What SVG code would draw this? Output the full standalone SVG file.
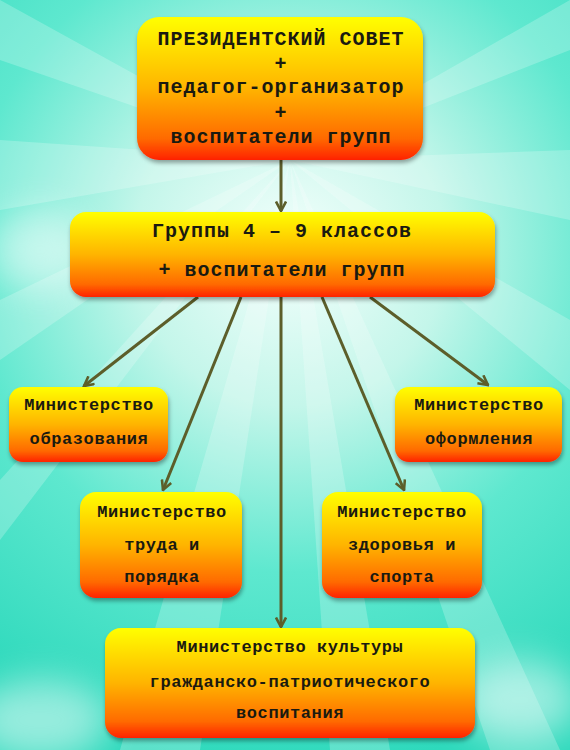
<svg xmlns="http://www.w3.org/2000/svg" width="570" height="750" viewBox="0 0 570 750">
<defs>
<radialGradient id="bg" cx="290" cy="250" r="520" gradientUnits="userSpaceOnUse">
<stop offset="0" stop-color="#f4fffc"/>
<stop offset="0.3" stop-color="#c4f6ea"/>
<stop offset="0.62" stop-color="#5ee8cf"/>
<stop offset="1" stop-color="#2ed9bc"/>
</radialGradient>
<linearGradient id="box" x1="0" y1="0" x2="0" y2="1">
<stop offset="0" stop-color="#ffff00"/>
<stop offset="0.5" stop-color="#ffb400"/>
<stop offset="0.85" stop-color="#ff6a00"/>
<stop offset="1" stop-color="#ff2200"/>
</linearGradient>
<filter id="sh" x="-10%" y="-10%" width="120%" height="130%">
<feDropShadow dx="1" dy="3" stdDeviation="2" flood-color="#000" flood-opacity="0.35"/>
</filter>
<filter id="blur" x="-50%" y="-50%" width="200%" height="200%">
<feGaussianBlur stdDeviation="18"/>
</filter>
<marker id="ah" viewBox="0 0 12 12" refX="10.5" refY="6" markerWidth="12" markerHeight="12" markerUnits="userSpaceOnUse" orient="auto">
<path d="M1,1 L10.5,6 L1,11" fill="none" stroke="#5c5e2a" stroke-width="2.6" stroke-linejoin="miter"/>
</marker>
</defs>
<style>
.node rect { fill: url(#box); filter: url(#sh); }
.t { font-family: "Liberation Mono", "Courier New", monospace; font-weight: bold; fill: #1a1a10; text-anchor: middle; }
.big { font-size: 20px; letter-spacing: 1px; }
.sm { font-size: 17px; letter-spacing: 0.6px; }
.conn line { stroke: #5c5e2a; stroke-width: 3; marker-end: url(#ah); }
</style>
<rect x="0" y="0" width="570" height="750" fill="url(#bg)"/>
<g opacity="0.22" fill="#ffffff">
<polygon points="290,160 0,0 0,60"/>
<polygon points="290,160 0,140 0,210"/>
<polygon points="290,160 0,300 0,360"/>
<polygon points="290,160 120,750 200,750"/>
<polygon points="290,160 330,750 390,750"/>
<polygon points="290,160 570,0 570,50"/>
<polygon points="290,160 570,150 570,220"/>
<polygon points="290,160 570,320 570,390"/>
<polygon points="290,160 490,750 560,750"/>
<polygon points="290,160 0,480 0,540"/>
</g>
<g opacity="0.5" fill="#ffffff" filter="url(#blur)">
<ellipse cx="40" cy="720" rx="70" ry="40"/>
<ellipse cx="520" cy="700" rx="60" ry="40"/>
<ellipse cx="40" cy="250" rx="50" ry="40"/>
</g>
<g class="conn">
<line x1="281" y1="160" x2="281" y2="211"/>
<line x1="198" y1="297" x2="84" y2="386"/>
<line x1="241" y1="297" x2="163" y2="490"/>
<line x1="281" y1="297" x2="281" y2="627"/>
<line x1="322" y1="297" x2="404" y2="490"/>
<line x1="370" y1="297" x2="488" y2="385"/>
</g>
<g id="n1" class="node">
<rect x="137" y="17" width="286" height="143" rx="22"/>
<text class="t big" x="281" y="45">ПРЕЗИДЕНТСКИЙ СОВЕТ</text>
<text class="t big" x="281" y="70">+</text>
<text class="t big" x="281" y="93">педагог-организатор</text>
<text class="t big" x="281" y="119">+</text>
<text class="t big" x="281" y="143">воспитатели групп</text>
</g>
<g id="n2" class="node">
<rect x="70" y="212" width="425" height="85" rx="16"/>
<text class="t big" x="282" y="237">Группы 4 – 9 классов</text>
<text class="t big" x="282" y="276">+ воспитатели групп</text>
</g>
<g id="n3" class="node">
<rect x="9" y="387" width="159" height="75" rx="14"/>
<text class="t sm" x="89" y="410">Министерство</text>
<text class="t sm" x="89" y="444">образования</text>
</g>
<g id="n4" class="node">
<rect x="395" y="387" width="167" height="75" rx="14"/>
<text class="t sm" x="479" y="410">Министерство</text>
<text class="t sm" x="479" y="444">оформления</text>
</g>
<g id="n5" class="node">
<rect x="80" y="492" width="162" height="106" rx="16"/>
<text class="t sm" x="162" y="517">Министерство</text>
<text class="t sm" x="162" y="550">труда и</text>
<text class="t sm" x="162" y="582">порядка</text>
</g>
<g id="n6" class="node">
<rect x="322" y="492" width="160" height="106" rx="16"/>
<text class="t sm" x="402" y="517">Министерство</text>
<text class="t sm" x="402" y="550">здоровья и</text>
<text class="t sm" x="402" y="582">спорта</text>
</g>
<g id="n7" class="node">
<rect x="105" y="628" width="370" height="110" rx="16"/>
<text class="t sm" x="290" y="652">Министерство культуры</text>
<text class="t sm" x="290" y="687">гражданско-патриотического</text>
<text class="t sm" x="290" y="718">воспитания</text>
</g>
</svg>
